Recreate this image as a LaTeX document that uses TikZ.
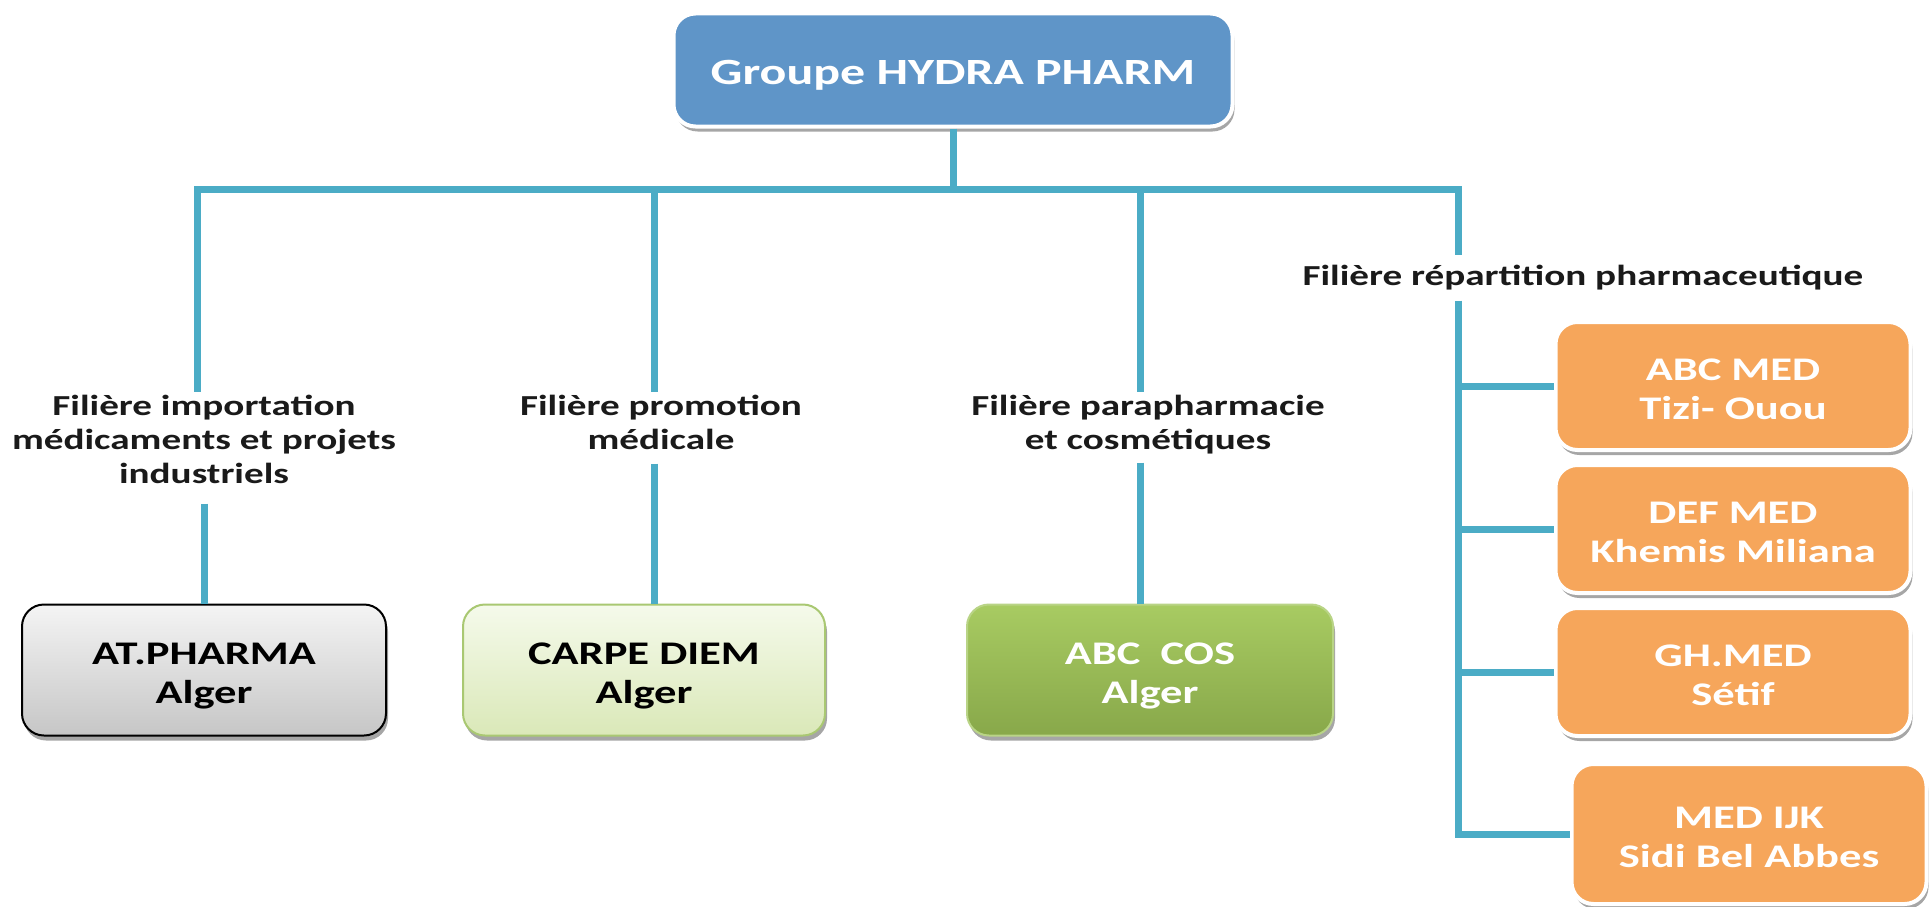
\documentclass[tikz,border=0pt]{standalone}
\usepackage{fontspec}
\setmainfont{Carlito}[FakeStretch=1.35]
\usetikzlibrary{shadows}
\definecolor{connc}{HTML}{4BACC6}
\definecolor{topblue}{HTML}{5F95C8}
\definecolor{orangec}{HTML}{F6A65B}
\definecolor{lgreenT}{HTML}{F5FAEB}
\definecolor{lgreenB}{HTML}{DAE8B8}
\definecolor{lgreenD}{HTML}{A9C872}
\definecolor{greenT}{HTML}{A8CB62}
\definecolor{greenB}{HTML}{88A84A}
\definecolor{greenD}{HTML}{B9D486}
\definecolor{grayT}{HTML}{F4F4F4}
\definecolor{grayB}{HTML}{C6C6C6}
\definecolor{labtext}{HTML}{1A1A1A}
\newcommand{\mytop}{\rule{0pt}{35pt}}
\newcommand{\mybot}{\rule[-8pt]{0pt}{8pt}}
\tikzset{
  conn/.style={draw=connc, line width=7pt},
  shad/.style={drop shadow={shadow xshift=2pt, shadow yshift=-5pt, opacity=0.35, fill=black}},
  boxstyle/.style={rounded corners=22pt, inner sep=0pt, align=center, shad,
    font=\bfseries\fontsize{33}{39}\selectfont},
  orangebox/.style={boxstyle, fill=orangec, draw=white, line width=4pt, text=white,
    minimum width=355pt, minimum height=128pt},
  lab/.style={align=center, text=labtext, inner xsep=0pt, inner ysep=3pt,
    font=\bfseries\fontsize{29}{34}\selectfont}
}
\begin{document}
\begin{tikzpicture}[x=1pt,y=-1pt]
\useasboundingbox (0,0) rectangle (1932,907);
\fill[white] (0,0) rectangle (1932,907);

% coordinates of the bus
\coordinate (busL) at (197,189);
\coordinate (busR) at (1458,189);
\coordinate (busB) at (654,189);
\coordinate (busC) at (1140,189);

% top box
\node[boxstyle, fill=topblue, draw=white, line width=4pt, text=white,
  minimum width=559pt, minimum height=113pt, text height=33pt, text depth=4pt,
  font=\bfseries\fontsize{37}{44}\selectfont] (top) at (953,70) {Groupe HYDRA PHARM};

% branch labels
\node[lab] (l1) at (204,439) {Filière importation\\médicaments et projets\\industriels};
\node[lab] (l2) at (661,422) {Filière promotion\\médicale};
\node[lab] (l3) at (1148,425) {Filière parapharmacie\\et cosmétiques};
\node[lab, inner ysep=10pt] (l4) at (1583,278) {Filière répartition pharmaceutique};

% bottom boxes
\node[boxstyle, shading=axis, top color=grayT, bottom color=grayB, draw=black, line width=2pt,
  minimum width=364pt, minimum height=131pt] (b1) at (204,670) {\mytop AT.PHARMA\\Alger\mybot};
\node[boxstyle, shading=axis, top color=lgreenT, bottom color=lgreenB, draw=lgreenD, line width=2pt,
  minimum width=362pt, minimum height=131pt] (b2) at (644,670) {\mytop CARPE DIEM\\Alger\mybot};
\node[boxstyle, shading=axis, top color=greenT, bottom color=greenB, draw=greenD, line width=2pt,
  text=white, minimum width=366pt, minimum height=131pt] (b3) at (1150,670) {\mytop ABC\ \ COS\\Alger\mybot};

% orange boxes
\node[orangebox] (o1) at (1733,386) {\mytop ABC MED\\Tizi- Ouou\mybot};
\node[orangebox] (o2) at (1733,529) {\mytop DEF MED\\Khemis Miliana\mybot};
\node[orangebox] (o3) at (1733,672) {\mytop GH.MED\\Sétif\mybot};
\node[orangebox, minimum height=140pt] (o4) at (1749,834) {\mytop MED IJK\\Sidi Bel Abbes\mybot};

% connectors
\draw[conn] (top.south) -- (top.south |- busL);
\draw[conn] (busL |- l1.north) -- (busL) -- (busR) -- (busR |- l4.north);
\draw[conn] (busB) -- (busB |- l2.north);
\draw[conn] (busC) -- (busC |- l3.north);
\draw[conn] ([yshift=-17pt]l1.south) -- (b1.north);
\draw[conn] ([yshift=-11pt]l2.south -| busB) -- (b2.north -| busB);
\draw[conn] ([yshift=-5pt]l3.south -| busC) -- (b3.north -| busC);
\draw[conn] (l4.south -| busR) |- (o4.west);
\draw[conn] (o1.west -| busR) -- (o1.west);
\draw[conn] (o2.west -| busR) -- (o2.west);
\draw[conn] (o3.west -| busR) -- (o3.west);
\end{tikzpicture}
\end{document}
